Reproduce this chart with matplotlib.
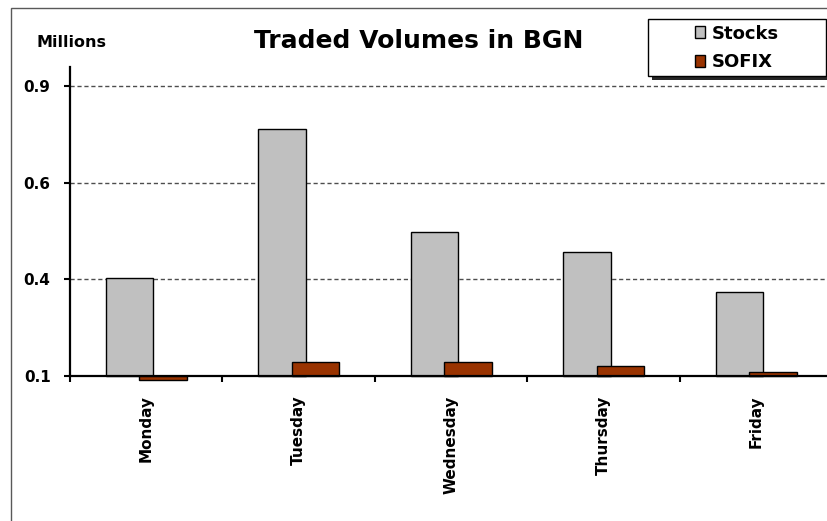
import matplotlib
matplotlib.use("Agg")
import matplotlib.pyplot as plt
from matplotlib.patches import Rectangle, Patch
import numpy as np

days = ["Monday", "Tuesday", "Wednesday", "Thursday", "Friday"]
stocks = [0.354, 0.738, 0.472, 0.422, 0.317]
sofix = [0.090, 0.137, 0.136, 0.125, 0.110]
y_ticks = [0.1, 0.35, 0.6, 0.85]
y_tick_labels = ["0.1", "0.4", "0.6", "0.9"]
series_names = ["Stocks", "SOFIX"]
title = "Traded Volumes in BGN"
unit_label = "Millions"

W, H = 828, 521
fig = plt.figure(figsize=(W / 100, H / 100), dpi=100)
fig.patch.set_facecolor("white")

plt.rcParams["font.family"] = ["DejaVu Sans"]

# axes placement (pixels -> figure fraction)
left_px, right_px, top_px, bottom_px = 70, 832.5, 66.7, 376
ax = fig.add_axes([left_px / W, 1 - bottom_px / H,
                   (right_px - left_px) / W, (bottom_px - top_px) / H])

base = 0.1
x = np.arange(len(days))
bw = 0.31
off = 0.11
ax.bar(x - off, np.array(stocks) - base, bw, bottom=base, color="#C0C0C0",
       edgecolor="black", linewidth=1.0, zorder=2, clip_on=False)
ax.bar(x + off, np.array(sofix) - base, bw, bottom=base, color="#993300",
       edgecolor="black", linewidth=1.0, zorder=3, clip_on=False)

ax.set_xlim(-0.5, len(days) - 0.5)
ax.set_ylim(base, 0.9)

ax.set_yticks(y_ticks)
ax.set_yticklabels(y_tick_labels, fontsize=11, fontweight="bold")
ax.tick_params(axis="y", direction="out", length=4, width=1.5, pad=10)

ax.set_xticks(np.arange(-0.5, len(days) - 0.5 + 0.01, 1.0))
ax.set_xticklabels([])
ax.tick_params(axis="x", which="major", direction="out", length=4, width=1.5)
ax.set_xticks(x, minor=True)
ax.set_xticklabels(days, minor=True, rotation=90, fontsize=11, fontweight="bold")
ax.tick_params(axis="x", which="minor", length=0, pad=14)

ax.yaxis.grid(True, linestyle=(0, (3, 2)), color="0.3", linewidth=1.0)
ax.set_axisbelow(True)

for s in ["top", "right"]:
    ax.spines[s].set_visible(False)
for s in ["left", "bottom"]:
    ax.spines[s].set_linewidth(1.6)
    ax.spines[s].set_color("black")
    ax.spines[s].set_zorder(4)

# title and unit label
fig.text(419 / W, 1 - 48.5 / H, title, ha="center", va="baseline",
         fontsize=18, fontweight="bold")
fig.text(37 / W, 1 - 47 / H, unit_label, ha="left", va="baseline",
         fontsize=11.5, fontweight="bold")

# outer chart frame
fig.add_artist(Rectangle((11 / W, -0.2), 1.5, 1.2 - 8 / H, transform=fig.transFigure,
                         facecolor="none", edgecolor="0.35", linewidth=1.0))

# legend box with shadow
lx0, lx1, ly0, ly1 = 648, 826, 19, 76
fig.add_artist(Rectangle(((lx0 + 4) / W, 1 - (ly1 + 4) / H), (lx1 - lx0) / W,
                         (ly1 - ly0) / H, transform=fig.transFigure,
                         facecolor="0.15", edgecolor="none", zorder=5))
fig.add_artist(Rectangle((lx0 / W, 1 - ly1 / H), (lx1 - lx0) / W,
                         (ly1 - ly0) / H, transform=fig.transFigure,
                         facecolor="white", edgecolor="black", linewidth=1.0, zorder=6))
handles = [Patch(facecolor="#C0C0C0", edgecolor="black", linewidth=1.0),
           Patch(facecolor="#993300", edgecolor="black", linewidth=1.0)]
leg = fig.legend(handles, series_names, loc="center",
                 bbox_to_anchor=(737 / W, 1 - 48 / H), bbox_transform=fig.transFigure,
                 frameon=False, borderpad=0, handlelength=0.55, handleheight=0.62,
                 handletextpad=0.4, labelspacing=0.6,
                 prop={"size": 13, "weight": "bold"})
leg.set_zorder(7)

fig.savefig("out.png", dpi=100)
